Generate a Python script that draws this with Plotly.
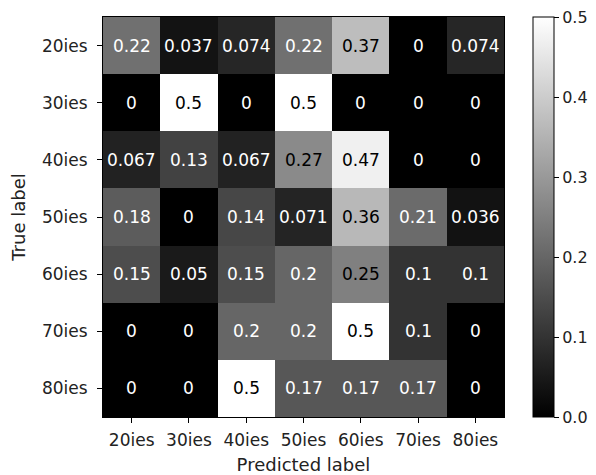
import plotly.graph_objects as go

labels = ["20ies", "30ies", "40ies", "50ies", "60ies", "70ies", "80ies"]
values = [
    [0.22, 0.037, 0.074, 0.22, 0.37, 0, 0.074],
    [0, 0.5, 0, 0.5, 0, 0, 0],
    [0.067, 0.13, 0.067, 0.27, 0.47, 0, 0],
    [0.18, 0, 0.14, 0.071, 0.36, 0.21, 0.036],
    [0.15, 0.05, 0.15, 0.2, 0.25, 0.1, 0.1],
    [0, 0, 0.2, 0.2, 0.5, 0.1, 0],
    [0, 0, 0.5, 0.17, 0.17, 0.17, 0],
]
cbar_ticks = [0.0, 0.1, 0.2, 0.3, 0.4, 0.5]

FONT = "DejaVu Sans"
FS = 17
TFS = 18
vmin, vmax = 0.0, 0.5
thresh = (vmin + vmax) / 2

fig = go.Figure(
    go.Heatmap(
        z=values,
        x=labels,
        y=labels,
        zmin=vmin,
        zmax=vmax,
        colorscale=[[0, "#000000"], [1, "#ffffff"]],
        hoverinfo="skip",
        colorbar=dict(
            x=1.072,
            xanchor="left",
            y=0.5,
            yanchor="middle",
            len=1,
            lenmode="fraction",
            thickness=21,
            xpad=0,
            ypad=0,
            outlinewidth=1,
            outlinecolor="#000000",
            tickvals=cbar_ticks,
            tickformat=".1f",
            ticks="outside",
            ticklen=5,
            tickwidth=1,
            tickcolor="#000000",
            ticklabeloverflow="allow",
            tickfont=dict(family=FONT, size=16, color="#222222"),
        ),
    )
)

annotations = []
for i, row in enumerate(values):
    for j, v in enumerate(row):
        annotations.append(
            dict(
                x=labels[j],
                y=labels[i],
                text=format(v, ".2g"),
                showarrow=False,
                font=dict(family=FONT, size=FS,
                          color="#ffffff" if v < thresh else "#000000"),
            )
        )

# page body has an 8px margin, so the figure is shrunk by that offset
fig.update_layout(
    width=588,
    height=467,
    margin=dict(l=95, r=92, t=9, b=58, autoexpand=False),
    paper_bgcolor="#ffffff",
    plot_bgcolor="#ffffff",
    annotations=annotations,
    font=dict(family=FONT, size=FS, color="#222222"),
    xaxis=dict(
        title=dict(text="Predicted label", font=dict(family=FONT, size=TFS), standoff=8),
        automargin=False,
        ticks="outside",
        ticklen=5,
        tickcolor="#000000",
        ticklabelstandoff=3,
        showline=True,
        mirror=True,
        linecolor="#000000",
        linewidth=1,
        showgrid=False,
        zeroline=False,
    ),
    yaxis=dict(
        title=dict(text="True label", font=dict(family=FONT, size=TFS), standoff=16),
        automargin=False,
        autorange="reversed",
        ticks="outside",
        ticklen=5,
        tickcolor="#000000",
        ticklabelstandoff=6,
        showline=True,
        mirror=True,
        linecolor="#000000",
        linewidth=1,
        showgrid=False,
        zeroline=False,
    ),
)

fig.write_html(
    "out.html",
    config={"displayModeBar": False},
    post_script="document.documentElement.style.overflow='hidden';",
)
